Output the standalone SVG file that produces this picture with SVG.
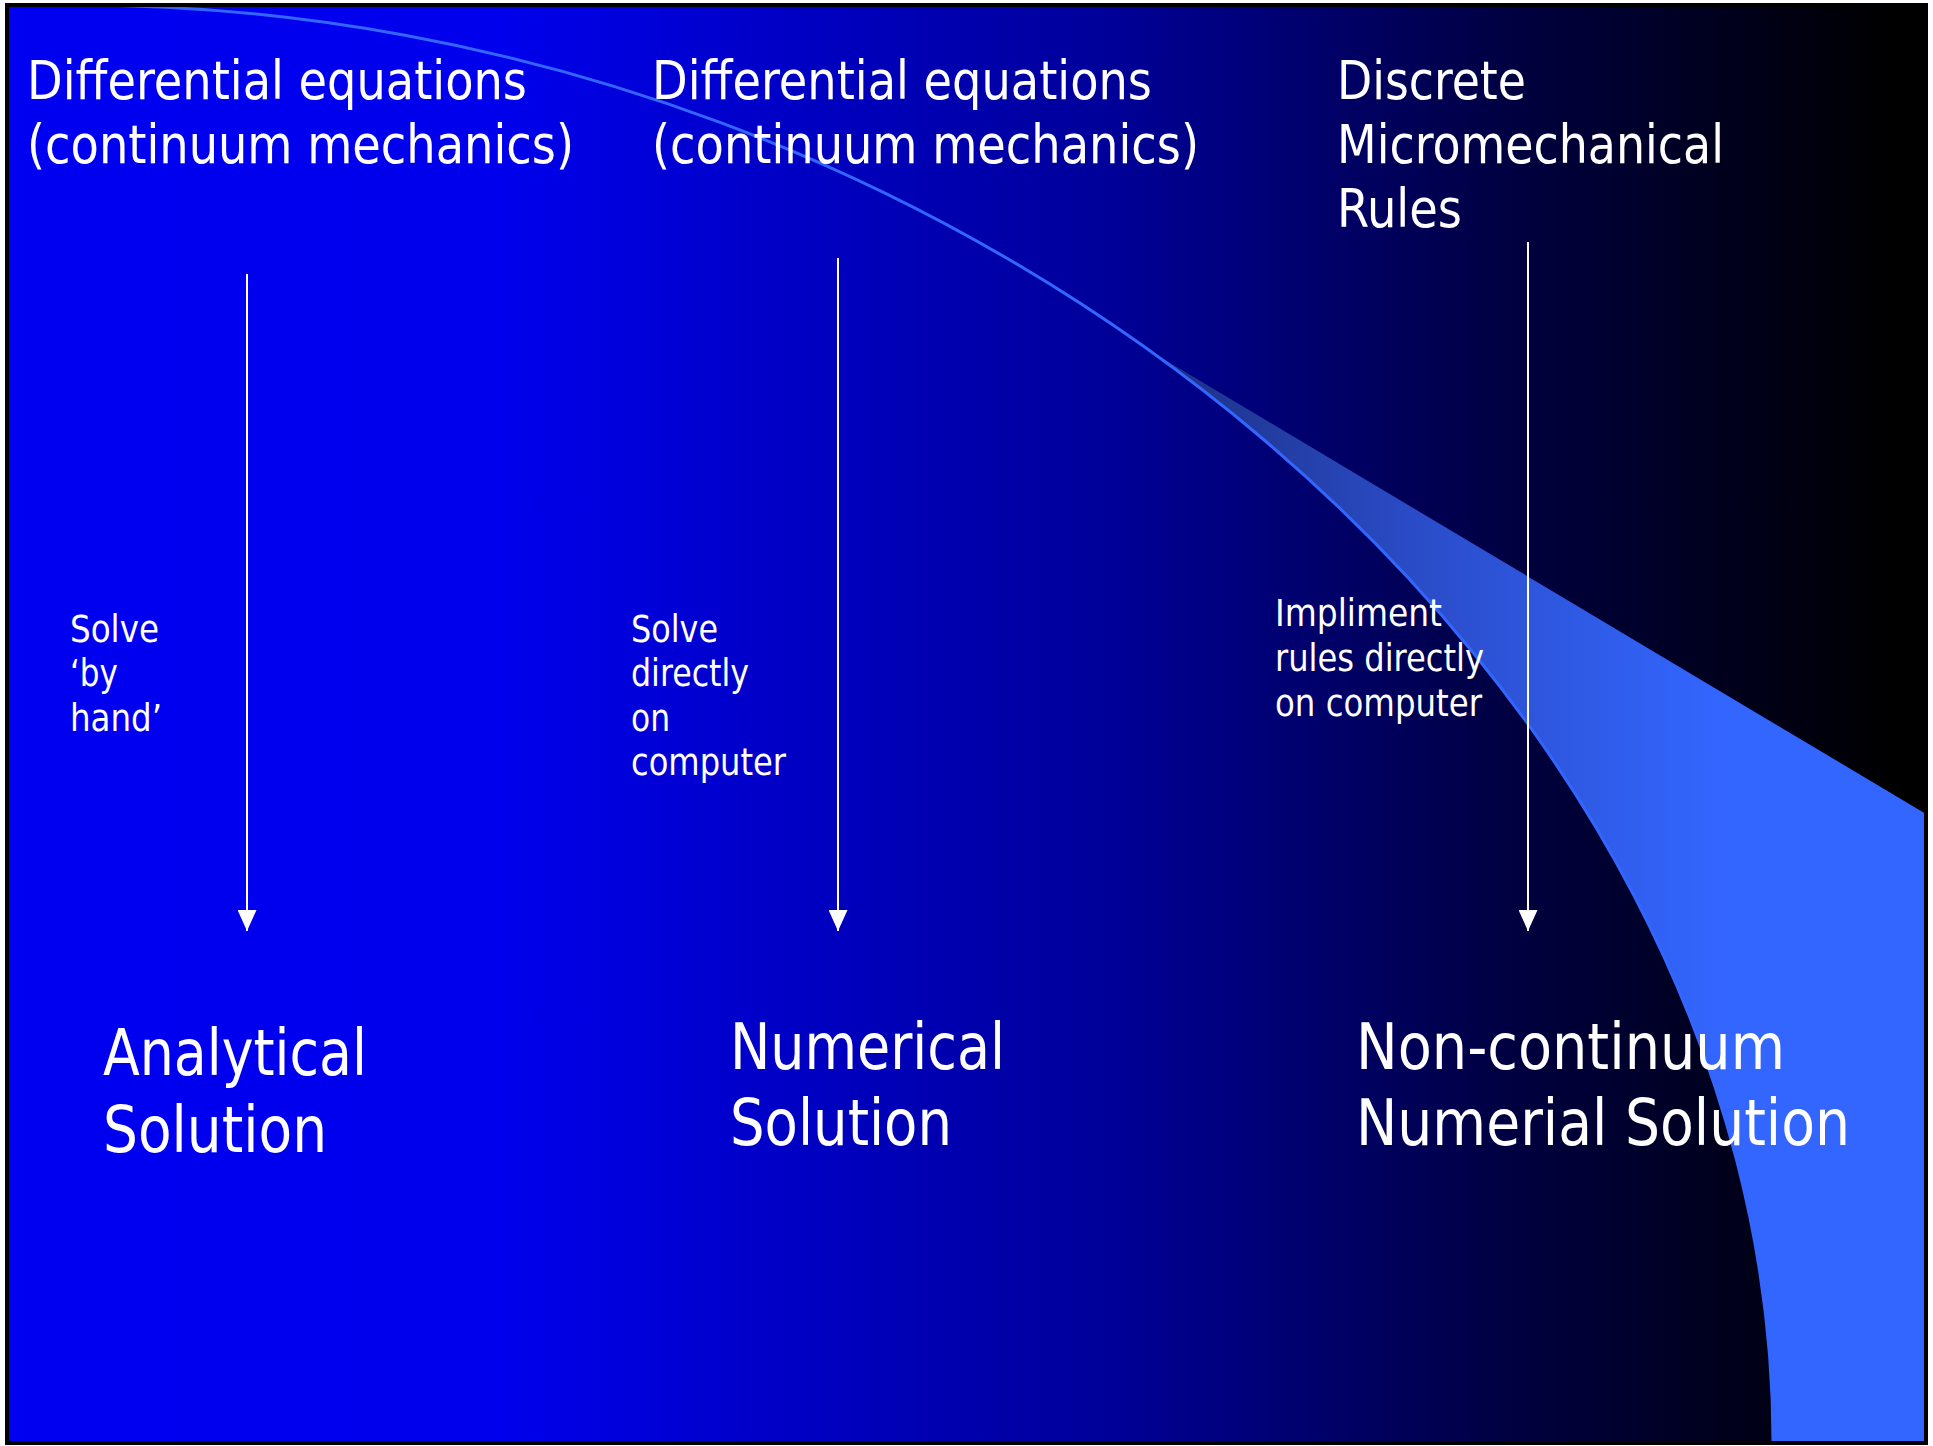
<svg xmlns="http://www.w3.org/2000/svg" width="1933" height="1446" viewBox="0 0 1933 1446">
  <defs>
    <linearGradient id="bg" gradientUnits="userSpaceOnUse" x1="0" y1="0" x2="1933" y2="0">
      <stop offset="0" stop-color="#0000F2"/>
      <stop offset="0.26" stop-color="#0000EC"/>
      <stop offset="0.57" stop-color="#00009A"/>
      <stop offset="0.78" stop-color="#000042"/>
      <stop offset="0.98" stop-color="#000000"/>
    </linearGradient>
    <linearGradient id="wedge" gradientUnits="userSpaceOnUse" x1="1150" y1="0" x2="1720" y2="0">
      <stop offset="0" stop-color="#1B2F80"/>
      <stop offset="0.45" stop-color="#2A4BC6"/>
      <stop offset="1" stop-color="#3366FF"/>
    </linearGradient>
    <marker id="ah" viewBox="0 0 21 19" refX="21" refY="9.5" markerWidth="21" markerHeight="19" markerUnits="userSpaceOnUse" orient="auto">
      <path d="M0,0 L21,9.5 L0,19 Z" fill="#FFFFFF"/>
    </marker>
    <clipPath id="slide">
      <rect x="7" y="5" width="1919" height="1438"/>
    </clipPath>
  </defs>
  <style>
    text { fill: #FFFFFF; font-family: "DejaVu Sans Condensed", "DejaVu Sans", Verdana, sans-serif; font-stretch: condensed; }
    .h { font-size: 53px; }
    .s { font-size: 37px; }
    .b { font-size: 64px; }
    .arrow { stroke: #FFFFFF; stroke-width: 2; fill: none; }
  </style>

  <rect x="0" y="0" width="1933" height="1446" fill="#FFFFFF"/>
  <g id="background" clip-path="url(#slide)">
    <rect x="7" y="5" width="1919" height="1438" fill="url(#bg)"/>
    <path d="M1150.5,351.3 L1926,814 L1926,1443 L1773,1443 L1773,1442 C1773,1017.6 1525.4,620.1 1150.5,351.3 Z" fill="url(#wedge)"/>
    <path d="M75,5 C975,5 1773,680 1773,1442 L1773,1446" fill="none" stroke="#3366FF" stroke-width="3"/>
  </g>
  <rect x="7" y="5" width="1919" height="1438" fill="none" stroke="#000000" stroke-width="4"/>

  <g id="node-de1">
    <text class="h" x="27" y="99" textLength="500" lengthAdjust="spacingAndGlyphs">Differential equations</text>
    <text class="h" x="27" y="163" textLength="547" lengthAdjust="spacingAndGlyphs">(continuum mechanics)</text>
  </g>
  <g id="node-de2">
    <text class="h" x="652" y="99" textLength="500" lengthAdjust="spacingAndGlyphs">Differential equations</text>
    <text class="h" x="652" y="163" textLength="547" lengthAdjust="spacingAndGlyphs">(continuum mechanics)</text>
  </g>
  <g id="node-discrete">
    <text class="h" x="1337" y="99" textLength="189" lengthAdjust="spacingAndGlyphs">Discrete</text>
    <text class="h" x="1337" y="163" textLength="387" lengthAdjust="spacingAndGlyphs">Micromechanical</text>
    <text class="h" x="1337" y="227" textLength="125" lengthAdjust="spacingAndGlyphs">Rules</text>
  </g>

  <g id="node-analytical">
    <text class="b" x="103" y="1075" textLength="264" lengthAdjust="spacingAndGlyphs">Analytical</text>
    <text class="b" x="103" y="1152" textLength="224" lengthAdjust="spacingAndGlyphs">Solution</text>
  </g>
  <g id="node-numerical">
    <text class="b" x="730" y="1069" textLength="275" lengthAdjust="spacingAndGlyphs">Numerical</text>
    <text class="b" x="730" y="1145" textLength="222" lengthAdjust="spacingAndGlyphs">Solution</text>
  </g>
  <g id="node-noncontinuum">
    <text class="b" x="1356" y="1069" textLength="429" lengthAdjust="spacingAndGlyphs">Non-continuum</text>
    <text class="b" x="1356" y="1145" textLength="494" lengthAdjust="spacingAndGlyphs">Numerial Solution</text>
  </g>

  <g id="connectors">
    <line class="arrow" x1="247" y1="274" x2="247" y2="931" marker-end="url(#ah)"/>
    <line class="arrow" x1="838" y1="258" x2="838" y2="931" marker-end="url(#ah)"/>
    <line class="arrow" x1="1528" y1="242" x2="1528" y2="931" marker-end="url(#ah)"/>
    <g id="label-hand">
      <text class="s" x="70" y="642" textLength="89" lengthAdjust="spacingAndGlyphs">Solve</text>
      <text class="s" x="70" y="686" textLength="48" lengthAdjust="spacingAndGlyphs">‘by</text>
      <text class="s" x="70" y="731" textLength="92" lengthAdjust="spacingAndGlyphs">hand’</text>
    </g>
    <g id="label-computer">
      <text class="s" x="631" y="642" textLength="87" lengthAdjust="spacingAndGlyphs">Solve</text>
      <text class="s" x="631" y="686" textLength="118" lengthAdjust="spacingAndGlyphs">directly</text>
      <text class="s" x="631" y="731" textLength="39" lengthAdjust="spacingAndGlyphs">on</text>
      <text class="s" x="631" y="775" textLength="155" lengthAdjust="spacingAndGlyphs">computer</text>
    </g>
    <g id="label-rules">
      <text class="s" x="1275" y="626" textLength="167" lengthAdjust="spacingAndGlyphs">Impliment</text>
      <text class="s" x="1275" y="671" textLength="209" lengthAdjust="spacingAndGlyphs">rules directly</text>
      <text class="s" x="1275" y="716" textLength="207" lengthAdjust="spacingAndGlyphs">on computer</text>
    </g>
  </g>
</svg>
